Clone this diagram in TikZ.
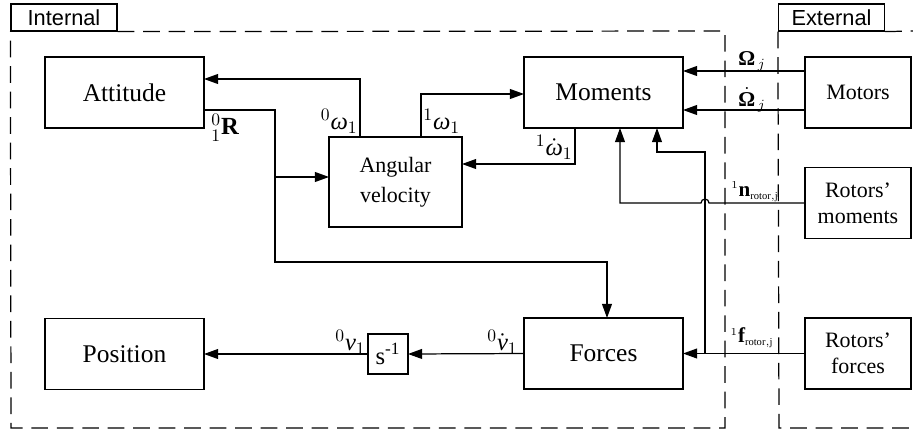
\documentclass[tikz,border=0pt]{standalone}
\usepackage{fontspec}
\setmainfont{Liberation Serif}
\newfontfamily\tabfont{Liberation Sans}
\usetikzlibrary{arrows.meta}
\newcommand{\gw}{\mbox{\itshape ω}}
\newcommand{\gO}{\mbox{\bfseries Ω}}
\newcommand{\vv}{\mbox{\itshape v}}
\begin{document}
\begin{tikzpicture}[x=0.02cm,y=-0.02cm,
  block/.style={draw, line width=0.8pt, inner sep=0pt, outer sep=0pt, align=center},
  bigblock/.style={block, minimum width=3.18cm, minimum height=1.42cm, font=\fontsize{14.5}{16}\selectfont},
  smallblock/.style={block, minimum width=2.12cm, minimum height=1.42cm, font=\fontsize{12.5}{15}\selectfont},
  tabbox/.style={draw, line width=0.7pt, inner sep=0pt, minimum width=2.12cm, minimum height=0.54cm, font=\tabfont\fontsize{12.4}{14}\selectfont},
  region/.style={line width=0.7pt, dash pattern=on 9.5pt off 5pt},
  arr/.style={line width=0.7pt, -{Triangle[length=8pt, width=5.6pt]}},
  lbl/.style={inner sep=0pt, font=\fontsize{14}{14}\selectfont},
  slbl/.style={inner sep=0pt, font=\fontsize{12}{12}\selectfont}
]
\useasboundingbox (0,0) rectangle (913,430);

% regions with their tabs
\node[tabbox] (tabI) at (64,17.5) {Internal};
\node[tabbox] (tabE) at (831.5,17.5) {External};
\draw[region] (tabI.south east) -- (725,31) -- (725,428) -- (11,428) -- (tabI.south west);
\draw[region] (tabE.south east) -- (913,31);
\draw[region] (tabE.south west) -- (779,428) -- (913,428);

% blocks
\node[bigblock] (att) at (124.5,92.5) {Attitude};
\node[bigblock] (mom) at (603.5,92.5) {Moments};
\node[block, minimum width=2.66cm, minimum height=1.8cm, font=\fontsize{12.5}{17}\selectfont] (angv) at (395.5,182) {Angular\\velocity};
\node[smallblock] (mot) at (858,92.5) {Motors};
\node[smallblock] (rmom) at (858,203) {Rotors’\\moments};
\node[smallblock] (rfor) at (858,353.5) {Rotors’\\forces};
\node[bigblock] (pos) at (124.5,354) {Position};
\node[bigblock] (forc) at (603.5,353.5) {Forces};
\node[block, minimum width=0.8cm, minimum height=0.8cm, font=\fontsize{14}{14}\selectfont] (integ) at (388,354) {s\textsuperscript{-1}};

% angular velocity outputs
\draw[arr] (angv.north -| 360,0) |- (att.east |- 0,79);
\draw[arr] (angv.north -| 421,0) |- (mom.west |- 0,94);
\draw[arr] (mom.south -| 575,0) |- (angv.east |- 0,164);

% rotation matrix to angular velocity and forces
\coordinate (bR) at (275,177);
\draw[arr] (att.east |- 0,110) -| (275,262) -| (forc.north -| 607,0);
\draw[arr] (bR) -- (angv.west |- bR);

% motors to moments
\draw[arr] (mot.west |- 0,71) -- (mom.east |- 0,71);
\draw[arr] (mot.west |- 0,110) -- (mom.east |- 0,110);

% rotor moments, hopping over the force branch
\draw[arr] (rmom.west) -- (709,203) arc[start angle=0, end angle=180, radius=0.08cm] -- (620,203) -- (mom.south -| 620,0);

% rotor forces
\coordinate (jF) at (forc.east -| 705,0);
\draw[arr] (rfor.west) -- (forc.east);
\draw[arr] (jF) |- (657,152) -- (mom.south -| 657,0);

% translational chain
\draw[arr] (forc.west) -- (integ.east);
\draw[arr] (integ.west) -- (pos.east);

% signal labels
\node[lbl, anchor=north west] (lR) at (211,114) {$^{0}_{1}$\textbf{R}};
\node[lbl, anchor=south east] (lw0) at (358,134) {$^{0}\gw_{1}$};
\node[lbl, anchor=south west] (lw1) at (423,134) {$^{1}\gw_{1}$};
\node[lbl, anchor=south east] (lwd) at (573,160) {$^{1}\dot{\gw}_{1}$};
\node[slbl] (lO) at (752,61) {$\gO_{\,j}$};
\node[slbl] (lOd) at (752,100) {$\dot{\gO}_{\,j}$};
\node[slbl] (ln) at (755,192) {$^{\scriptscriptstyle 1}\mathbf{n}_{\scriptscriptstyle\mathrm{rotor,j}}$};
\node[slbl] (lf) at (752,338) {$^{\scriptscriptstyle 1}\mathbf{f}_{\scriptscriptstyle\mathrm{rotor,j}}$};
\node[lbl, anchor=south east] (lvd) at (518,355) {$^{0}\dot{\vv}_{1}$};
\node[lbl, anchor=south east] (lv) at (366,355) {$^{0}\vv_{1}$};
\end{tikzpicture}
\end{document}
